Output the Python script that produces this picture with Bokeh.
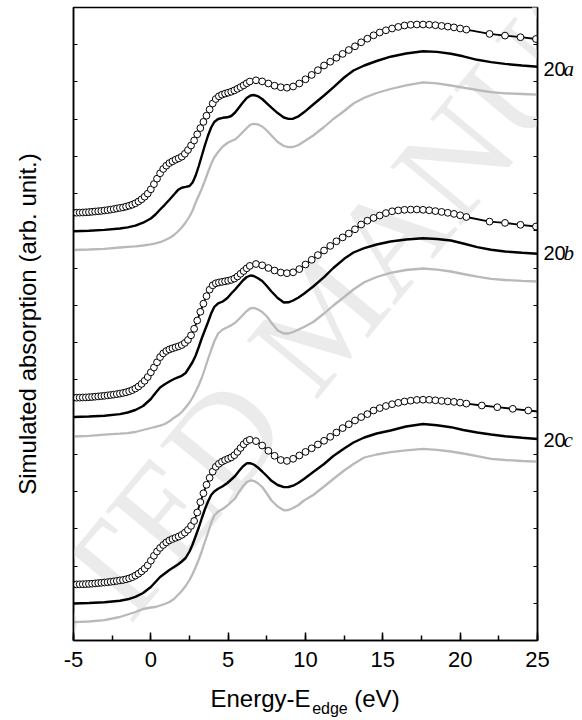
from bokeh.embed import file_html
from bokeh.models import FixedTicker, Label, LinearAxis, Range1d, SingleIntervalTicker
from bokeh.plotting import figure
from bokeh.resources import INLINE

# ---------------------------------------------------------------------------
# Energy grids (eV relative to the edge)
# ---------------------------------------------------------------------------
energy_fine = [
    -5.0, -4.8, -4.6, -4.4, -4.2, -4.0, -3.8, -3.6, -3.4, -3.2,
    -3.0, -2.8, -2.6, -2.4, -2.2, -2.0, -1.8, -1.6, -1.4, -1.2,
    -1.0, -0.8, -0.6, -0.4, -0.2, 0.0, 0.2, 0.4, 0.6, 0.8,
    1.0, 1.2, 1.4, 1.6, 1.8, 2.0, 2.2, 2.4, 2.6, 2.8,
    3.0, 3.2, 3.4, 3.6, 3.8, 4.0, 4.2, 4.4, 4.6, 4.8,
    5.0, 5.2, 5.4, 5.6, 5.8, 6.0, 6.2,
    6.4, 6.8, 7.2, 7.6, 8.0, 8.4, 8.8, 9.2, 9.6, 10.0,
    10.4, 10.8, 11.2, 11.6, 12.0, 12.4, 12.8, 13.2, 13.6, 14.0,
    14.4, 14.8, 15.2, 15.6, 16.0, 16.4, 16.8, 17.2, 17.6, 18.0,
    18.4, 18.8, 19.2, 19.6, 20.0, 20.4,
]
energy_tail_ab = [21.9, 22.9, 23.9, 24.9]
energy_tail_c = [21.4, 22.4, 23.4, 24.4, 25.4]

energy_line = [
    -5.0, -4.0, -3.0, -2.0, -1.5, -1.0, -0.5, 0.0, 0.3, 0.6,
    0.9, 1.2, 1.5, 1.75, 2.0, 2.25, 2.5, 2.7, 2.9, 3.1,
    3.3, 3.5, 3.7, 3.9, 4.1, 4.35, 4.65, 4.95, 5.2, 5.45,
    5.7, 5.95, 6.2, 6.45, 6.65, 6.9, 7.2, 7.5, 7.8, 8.2,
    8.6, 8.9, 9.2, 9.55, 9.9, 10.5, 11.2, 11.8, 12.5, 13.1,
    13.8, 14.6, 15.5, 16.5, 17.6, 18.5, 19.4, 20.2, 21.1, 22.0,
    22.9, 24.0, 25.0,
]

# ---------------------------------------------------------------------------
# Simulated absorption (arb. unit, curves stacked with offsets)
# ---------------------------------------------------------------------------
open_20a = [
    42.77, 42.78, 42.79, 42.80, 42.82, 42.84, 42.87, 42.90, 42.93, 42.96,
    43.00, 43.04, 43.09, 43.14, 43.20, 43.26, 43.31, 43.39, 43.48, 43.58,
    43.72, 43.90, 44.12, 44.38, 44.69, 45.12, 45.64, 46.18, 46.72, 47.15,
    47.48, 47.74, 47.92, 48.08, 48.22, 48.38, 48.67, 49.05, 49.50, 50.00,
    50.62, 51.24, 51.86, 52.48, 53.10, 53.70, 54.15, 54.42, 54.58, 54.69,
    54.78, 54.88, 55.01, 55.17, 55.34, 55.52, 55.72,
    55.90, 56.02, 55.91, 55.70, 55.48, 55.33, 55.28, 55.40, 55.70, 56.12,
    56.56, 57.03, 57.50, 57.88, 58.27, 58.66, 59.05, 59.42, 59.82, 60.18,
    60.52, 60.80, 61.02, 61.20, 61.36, 61.50, 61.57, 61.60, 61.60, 61.58,
    61.53, 61.46, 61.39, 61.31, 61.20, 61.09,
    60.66, 60.49, 60.33, 60.15,
]
black_20a = [
    40.93, 40.97, 41.06, 41.20, 41.31, 41.48, 41.78, 42.20, 42.60, 43.10,
    43.57, 44.08, 44.60, 45.04, 45.28, 45.36, 45.45, 45.80, 46.50, 47.45,
    48.50, 49.55, 50.50, 51.30, 51.85, 52.15, 52.27, 52.32, 52.45, 52.80,
    53.30, 53.80, 54.25, 54.50, 54.55, 54.44, 54.15, 53.72, 53.28, 52.74,
    52.30, 52.16, 52.18, 52.42, 52.82, 53.60, 54.50, 55.32, 56.30, 57.00,
    57.50, 57.95, 58.38, 58.70, 58.93, 58.86, 58.67, 58.42, 58.07, 57.84,
    57.66, 57.50, 57.37,
]
gray_20a = [
    39.05, 39.10, 39.17, 39.30, 39.36, 39.41, 39.50, 39.62, 39.72, 39.83,
    40.02, 40.25, 40.55, 40.90, 41.30, 41.80, 42.40, 43.00, 43.80, 44.50,
    45.20, 46.00, 46.85, 47.65, 48.30, 48.85, 49.40, 49.75, 49.95, 50.10,
    50.45, 50.85, 51.25, 51.60, 51.67, 51.62, 51.40, 51.00, 50.50, 49.85,
    49.45, 49.33, 49.35, 49.55, 49.90, 50.50, 51.35, 52.15, 52.95, 53.70,
    54.27, 54.75, 55.15, 55.52, 55.82, 55.72, 55.50, 55.28, 55.05, 54.83,
    54.72, 54.65, 54.58,
]

open_20b = [
    24.27, 24.28, 24.29, 24.30, 24.31, 24.33, 24.35, 24.38, 24.41, 24.44,
    24.47, 24.51, 24.55, 24.59, 24.64, 24.69, 24.75, 24.82, 24.92, 25.04,
    25.20, 25.40, 25.66, 25.97, 26.35, 26.82, 27.30, 27.82, 28.34, 28.71,
    28.95, 29.11, 29.22, 29.32, 29.42, 29.55, 29.76, 30.06, 30.52, 31.17,
    32.00, 32.87, 33.68, 34.44, 35.08, 35.52, 35.72, 35.80, 35.86, 35.92,
    35.98, 36.06, 36.19, 36.40, 36.67, 36.94, 37.22,
    37.46, 37.65, 37.52, 37.25, 37.00, 36.80, 36.73, 36.82, 37.14, 37.60,
    38.07, 38.54, 39.00, 39.46, 39.92, 40.31, 40.70, 41.12, 41.60, 41.98,
    42.26, 42.50, 42.74, 42.92, 43.01, 43.07, 43.09, 43.10, 43.07, 43.02,
    42.94, 42.86, 42.77, 42.66, 42.52, 42.35,
    41.89, 41.76, 41.57, 41.40,
]
black_20b = [
    22.35, 22.40, 22.48, 22.64, 22.80, 23.05, 23.45, 24.15, 24.75, 25.30,
    25.62, 25.90, 26.15, 26.32, 26.47, 26.75, 27.35, 27.85, 28.50, 29.35,
    30.25, 31.05, 31.85, 32.70, 33.35, 33.72, 33.90, 34.25, 34.70, 35.10,
    35.55, 36.00, 36.35, 36.50, 36.45, 36.25, 35.95, 35.45, 34.90, 34.25,
    33.80, 33.82, 34.00, 34.30, 34.67, 35.40, 36.33, 37.25, 38.17, 38.80,
    39.23, 39.60, 39.90, 40.10, 40.22, 40.15, 40.00, 39.70, 39.34, 39.08,
    38.90, 38.77, 38.67,
]
gray_20b = [
    20.40, 20.47, 20.58, 20.68, 20.74, 20.85, 21.05, 21.25, 21.37, 21.48,
    21.65, 21.92, 22.28, 22.52, 22.85, 23.30, 23.80, 24.30, 24.90, 25.55,
    26.30, 27.20, 28.15, 29.05, 29.90, 30.70, 31.10, 31.32, 31.52, 31.77,
    32.15, 32.55, 32.95, 33.22, 33.27, 33.12, 32.85, 32.40, 31.77, 31.00,
    30.70, 30.70, 30.85, 31.10, 31.35, 31.85, 32.70, 33.50, 34.35, 35.10,
    35.83, 36.35, 36.76, 37.05, 37.20, 37.08, 36.90, 36.65, 36.38, 36.17,
    36.05, 35.97, 35.90,
]

open_20c = [
    5.60, 5.61, 5.62, 5.63, 5.64, 5.66, 5.68, 5.71, 5.74, 5.77,
    5.80, 5.83, 5.87, 5.91, 5.96, 6.01, 6.05, 6.12, 6.21, 6.33,
    6.49, 6.68, 6.91, 7.18, 7.52, 7.98, 8.47, 8.90, 9.26, 9.55,
    9.81, 10.01, 10.15, 10.27, 10.40, 10.56, 10.78, 11.07, 11.46, 11.95,
    12.80, 13.84, 14.72, 15.57, 16.27, 16.89, 17.37, 17.67, 17.88, 18.04,
    18.17, 18.31, 18.53, 18.86, 19.25, 19.62, 19.92,
    20.07, 19.94, 19.50, 18.97, 18.47, 18.05, 17.96, 18.17, 18.50, 18.86,
    19.22, 19.60, 19.97, 20.37, 20.80, 21.24, 21.62, 22.00, 22.34, 22.64,
    23.00, 23.24, 23.45, 23.63, 23.77, 23.90, 23.98, 24.06, 24.08, 24.07,
    24.02, 23.96, 23.91, 23.86, 23.79, 23.69,
    23.50, 23.33, 23.17, 23.00, 22.84,
]
black_20c = [
    3.70, 3.75, 3.83, 3.97, 4.12, 4.37, 4.75, 5.35, 5.85, 6.35,
    6.70, 7.05, 7.35, 7.60, 7.90, 8.25, 8.90, 9.60, 10.45, 11.30,
    12.25, 13.15, 13.90, 14.55, 14.90, 15.17, 15.42, 15.75, 16.10, 16.45,
    16.95, 17.40, 17.72, 17.72, 17.60, 17.33, 16.90, 16.45, 15.97, 15.55,
    15.34, 15.35, 15.48, 15.77, 16.15, 16.85, 17.65, 18.45, 19.20, 19.80,
    20.30, 20.70, 21.00, 21.40, 21.65, 21.53, 21.33, 21.05, 20.80, 20.60,
    20.42, 20.27, 20.15,
]
gray_20c = [
    1.83, 1.90, 2.03, 2.35, 2.60, 2.85, 3.15, 3.30, 3.35, 3.50,
    3.65, 3.85, 4.15, 4.55, 4.95, 5.45, 6.05, 6.65, 7.35, 8.10,
    8.95, 9.90, 10.80, 11.75, 12.50, 12.90, 13.15, 13.50, 13.85, 14.20,
    14.85, 15.40, 15.85, 16.00, 15.97, 15.75, 15.35, 14.70, 14.00, 13.40,
    13.02, 13.05, 13.25, 13.55, 14.00, 14.55, 15.40, 16.15, 17.00, 17.65,
    18.30, 18.60, 18.83, 19.02, 19.17, 19.07, 18.90, 18.70, 18.43, 18.17,
    18.05, 17.95, 17.88,
]

# Curve names (number part, italic letter) and where they sit on the right
curve_names = [("20", "a"), ("20", "b"), ("20", "c")]
curve_label_y = [57.12, 38.78, 20.08]

# Axis titles
y_title = "Simulated absorption (arb. unit.)"
x_title_parts = ["Energy-E", "edge", "(eV)"]
x_title_at = [7.09, 11.58, 14.62]

# ---------------------------------------------------------------------------
SANS = "Liberation Sans"
SERIF = "Liberation Serif"
GRAY = "#b9b9b9"
Y_MAX = 63.3

p = figure(
    width=582, height=720,
    x_range=Range1d(-5, 25), y_range=Range1d(0, Y_MAX),
    output_backend="svg", toolbar_location=None,
    min_border_left=73, min_border_right=45,
    min_border_top=7, min_border_bottom=80,
)
p.background_fill_color = "white"
p.border_fill_color = "white"
p.outline_line_color = "black"
p.outline_line_width = 1.5
p.grid.visible = False

# Faint watermark stamped across the plotting area
p.add_layout(Label(
    x=11.2, y=32.4, text="ACCEPTED MANUSCRIPT", angle=0.88,
    text_font=SERIF, text_font_size="140px", text_color="#ebebeb",
    text_align="center", text_baseline="middle", level="underlay",
))


def bare_axis(ax):
    """Axis that only carries text: no line, no tick marks."""
    ax.axis_line_color = None
    ax.major_tick_line_color = None
    ax.minor_tick_line_color = None
    ax.major_tick_in = 0
    ax.major_tick_out = 0
    ax.minor_tick_in = 0
    ax.minor_tick_out = 0
    ax.major_label_text_color = "black"


# Bottom axis with numbers
xa = p.xaxis[0]
xa.ticker = SingleIntervalTicker(interval=5, num_minor_ticks=2)
xa.major_label_overrides = {-5: "-5"}
xa.axis_line_width = 1.5
xa.major_tick_in = 8
xa.major_tick_out = 0
xa.minor_tick_in = 5
xa.minor_tick_out = 0
xa.major_tick_line_width = 1.5
xa.minor_tick_line_width = 1.5
xa.major_label_text_font = SANS
xa.major_label_text_font_size = "22px"
xa.major_label_text_color = "black"
xa.major_label_standoff = 11

# x title: main words, then the lowered subscript
x_main = LinearAxis(
    ticker=FixedTicker(ticks=[x_title_at[0], x_title_at[2]]),
    major_label_overrides={x_title_at[0]: x_title_parts[0],
                           x_title_at[2]: x_title_parts[2]},
)
bare_axis(x_main)
x_main.major_label_text_font = SANS
x_main.major_label_text_font_size = "24px"
x_main.major_label_standoff = 15
p.add_layout(x_main, "below")

x_sub = LinearAxis(
    ticker=FixedTicker(ticks=[x_title_at[1]]),
    major_label_overrides={x_title_at[1]: x_title_parts[1]},
)
bare_axis(x_sub)
x_sub.major_label_text_font = SANS
x_sub.major_label_text_font_size = "16px"
x_sub.major_label_standoff = -15
p.add_layout(x_sub, "below")

# Left and right frame axes: inward ticks, no numbers
y_marks = [k * Y_MAX / 17 for k in range(1, 17)]
ya = p.yaxis[0]
ry = LinearAxis()
p.add_layout(ry, "right")
for ax in [ya, ry]:
    ax.ticker = FixedTicker(ticks=[], minor_ticks=y_marks)
    ax.axis_line_width = 1.5
    ax.minor_tick_in = 4
    ax.minor_tick_out = 0
    ax.minor_tick_line_width = 1.2
    ax.major_tick_in = 0
    ax.major_tick_out = 0
    ax.major_label_standoff = 0

ya.axis_label = y_title
ya.axis_label_text_font = SANS
ya.axis_label_text_font_size = "24px"
ya.axis_label_text_font_style = "normal"
ya.axis_label_text_color = "black"
ya.axis_label_standoff = 33

# Curve names on the right: number part then italic letter
name_num = LinearAxis(
    ticker=FixedTicker(ticks=curve_label_y),
    major_label_overrides={y: n for y, (n, _) in zip(curve_label_y, curve_names)},
)
bare_axis(name_num)
name_num.major_label_text_font = SANS
name_num.major_label_text_font_size = "20px"
name_num.major_label_standoff = 6
p.add_layout(name_num, "right")

name_letter = LinearAxis(
    ticker=FixedTicker(ticks=curve_label_y),
    major_label_overrides={y: s for y, (_, s) in zip(curve_label_y, curve_names)},
)
bare_axis(name_letter)
name_letter.major_label_text_font = SERIF
name_letter.major_label_text_font_style = "italic"
name_letter.major_label_text_font_size = "21px"
name_letter.major_label_standoff = -5
p.add_layout(name_letter, "right")

# Curves: gray and black lines, then the open-circle series on a connecting line
groups = [
    (energy_fine + energy_tail_ab, open_20a, black_20a, gray_20a),
    (energy_fine + energy_tail_ab, open_20b, black_20b, gray_20b),
    (energy_fine + energy_tail_c, open_20c, black_20c, gray_20c),
]
for e_open, v_open, v_black, v_gray in groups:
    p.line(energy_line, v_gray, line_color=GRAY, line_width=2.3)
    p.line(energy_line, v_black, line_color="black", line_width=2.4)
    p.line(e_open, v_open, line_color="black", line_width=1.8)
    p.scatter(e_open, v_open, marker="circle", size=6.8,
              fill_color="white", line_color="black", line_width=1.0)

open("out.html", "w").write(file_html(p, INLINE))
